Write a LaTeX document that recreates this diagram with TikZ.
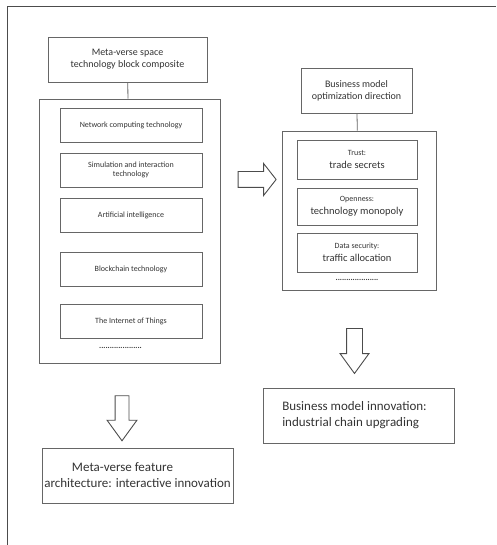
\documentclass[tikz,border=0pt]{standalone}
\usepackage{fontspec}
\setmainfont{Carlito}
\usetikzlibrary{
   shapes.arrows,
   positioning
}

\begin{document}
\begin{tikzpicture}[
  x=1pt, y=-1pt,
  every node/.style={text=black!80},
  box/.style={draw=black!60, line width=0.8pt, align=center, inner sep=0pt},
  itembox/.style={box, font=\footnotesize, minimum height=34pt},
  hollow/.style={draw=black!70, line width=0.9pt, single arrow},
  dotrow/.style={font=\footnotesize\bfseries, inner sep=0pt},
]

\useasboundingbox (0,0) rectangle (496,545);

% outer frame
\draw[black!70, line width=1pt] (7,545) -- (7,7) -- (496,7);

% left column: technology blocks
\node[box, minimum width=159pt, minimum height=45pt, font=\normalsize] (spacetitle) at (127.5,59.5)
  {Meta-verse space\\technology block composite};
\node[box, minimum width=181pt, minimum height=264pt] (spacebox) at (129.5,231) {};
\draw[black!60, line width=0.8pt] (spacetitle) -- (spacebox);

\node[itembox, minimum width=142pt] (network) at (131,125) {Network computing technology};
\node[itembox, minimum width=142pt] (simulation) at (131,170) {Simulation and interaction\\technology};
\node[itembox, minimum width=142pt] (ai) at (131,215) {Artificial intelligence};
\node[itembox, minimum width=142pt] (blockchain) at (131,269.5) {Blockchain technology};
\node[itembox, minimum width=142pt] (iot) at (131,321) {The Internet of Things};
\node[dotrow] (moretech) at (120.5,348) {....................};

% down to feature architecture
\node[hollow, shape border rotate=270, minimum height=45pt, inner xsep=6.5pt, inner ysep=0pt,
      single arrow head extend=8pt, single arrow tip angle=72] (downleft) at (122,413.5) {};
\node[box, minimum width=191pt, minimum height=55pt, font=\fontsize{13}{16}\selectfont] (feature) at (137.5,475.5)
  {Meta-verse feature\hspace*{30pt}\\architecture: interactive innovation};

% across to business model
\node[hollow, minimum height=38pt, inner xsep=0pt, inner ysep=7.5pt,
      single arrow head extend=8pt, single arrow tip angle=104] (across) at (254,179.5) {};

% right column: optimization direction
\node[box, minimum width=111pt, minimum height=45pt, font=\normalsize] (bmtitle) at (356.5,90.5)
  {Business model\\optimization direction};
\node[box, minimum width=154pt, minimum height=159pt] (bmbox) at (359,210.5) {};
\draw[black!60, line width=0.8pt] (bmtitle) -- (bmbox);

\node[box, minimum width=120pt, minimum height=39pt, font=\fontsize{10.5}{13}\selectfont] (trust) at (357,159.5)
  {{\footnotesize Trust:}\\trade secrets};
\node[box, minimum width=120pt, minimum height=37pt, font=\fontsize{10.5}{13}\selectfont] (openness) at (357,206.5)
  {{\footnotesize Openness:}\\technology monopoly};
\node[box, minimum width=120pt, minimum height=39pt, font=\fontsize{10.5}{13}\selectfont] (security) at (357,252.5)
  {{\footnotesize Data security:}\\traffic allocation};
\node[dotrow] (moredir) at (357,280) {....................};

% down to business model innovation
\node[hollow, shape border rotate=270, minimum height=45pt, inner xsep=7.5pt, inner ysep=0pt,
      single arrow head extend=6.5pt, single arrow tip angle=72] (downright) at (354.5,345.5) {};
\node[box, minimum width=191pt, minimum height=55pt, font=\fontsize{13}{16}\selectfont, align=left] (innovation) at (358.5,415.5)
  {Business model innovation:\hspace*{8pt}\\industrial chain upgrading};

\end{tikzpicture}
\end{document}
